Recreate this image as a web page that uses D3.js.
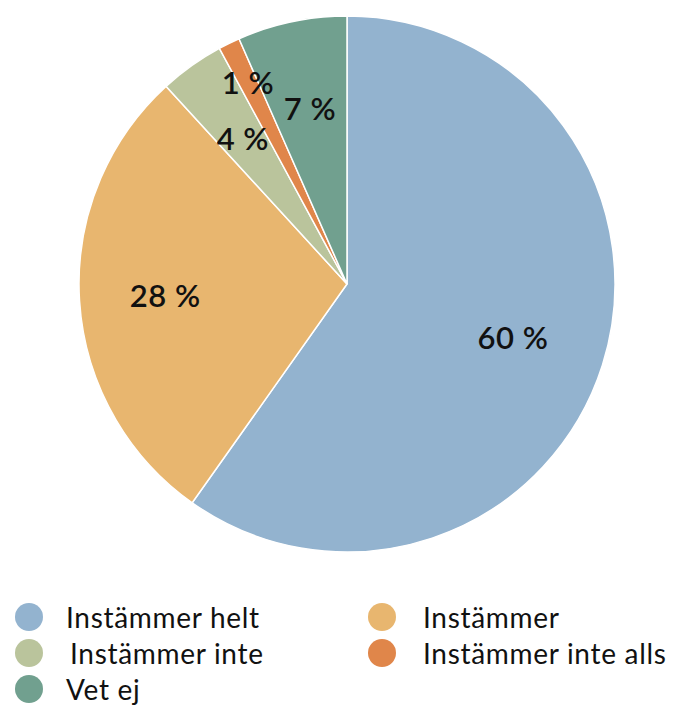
<!DOCTYPE html>
<html>
<head>
<meta charset="utf-8">
<script src="https://cdn.jsdelivr.net/npm/d3@7"></script>
<style>
  html, body { margin: 0; padding: 0; background: #ffffff; }
  svg { display: block; }
  text { font-family: "Lato", "Open Sans", sans-serif; fill: #111; }
</style>
</head>
<body>
<svg id="chart" width="677" height="708"></svg>
<script>
// ---- data ----
const categories = ["Instämmer helt", "Instämmer", "Instämmer inte", "Instämmer inte alls", "Vet ej"];
const values = [59.8, 28.4, 3.9, 1.3, 6.6];
const colors = ["#93b3cf", "#e8b66f", "#bac49c", "#e0864a", "#71a08f"];
const labelRadiusFactor = [0.65, 0.68, 0.67, 0.84, 0.67];

const svg = d3.select("#chart");
const cx = 347, cy = 284, R = 268;

const pie = d3.pie().sort(null).value(d => d.v);
const data = categories.map((c, i) => ({ c, v: values[i], i }));
const arcs = pie(data);
const arc = d3.arc().innerRadius(0).outerRadius(R);

const g = svg.append("g").attr("transform", `translate(${cx},${cy})`);
g.selectAll("path").data(arcs).enter().append("path")
  .attr("d", arc)
  .attr("fill", d => colors[d.data.i])
  .attr("stroke", "#ffffff")
  .attr("stroke-width", 1.5);

g.selectAll("text.lbl").data(arcs).enter().append("text")
  .attr("class", "lbl")
  .attr("transform", d => {
    const r = R * labelRadiusFactor[d.data.i];
    const a = d3.arc().innerRadius(r).outerRadius(r);
    const [x, y] = a.centroid(d);
    return `translate(${x},${y})`;
  })
  .attr("text-anchor", "middle")
  .attr("dominant-baseline", "central")
  .style("font-size", "31px")
  .style("font-weight", "600")
  .style("letter-spacing", "0.5px")
  .text(d => Math.round(d.data.v) + " %");

// legend
const legX = [29, 382], legTextX = [66, 423], legY0 = 617, legDy = 36;
const items = [
  { i: 0, col: 0, row: 0 },
  { i: 1, col: 1, row: 0 },
  { i: 2, col: 0, row: 1 },
  { i: 3, col: 1, row: 1 },
  { i: 4, col: 0, row: 2 }
];
const leg = svg.append("g");
items.forEach(it => {
  const y = legY0 + it.row * legDy;
  leg.append("circle").attr("cx", legX[it.col]).attr("cy", y).attr("r", 14)
    .attr("fill", colors[it.i]);
  leg.append("text").attr("x", legTextX[it.col] + (it.i === 2 ? 4 : 0)).attr("y", y)
    .attr("dominant-baseline", "central")
    .style("font-size", "28px")
    .style("letter-spacing", "0.7px")
    .text(categories[it.i]);
});
</script>
</body>
</html>
